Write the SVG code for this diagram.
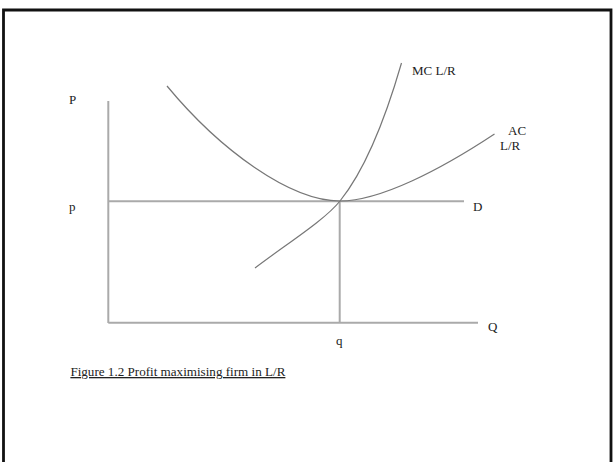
<svg xmlns="http://www.w3.org/2000/svg" width="613" height="462" viewBox="0 0 613 462">
<style>
.t{font-family:"Liberation Serif","Times New Roman",serif;font-size:13px;fill:#222}
.ax{stroke:#aaa;stroke-width:2;fill:none}
.cv{stroke:#777;stroke-width:1.2;fill:none}
</style>
<rect width="613" height="462" fill="#fff"/>
<path d="M3.5,462 V10 H611 V462" fill="none" stroke="#111" stroke-width="2.8"/>
<g id="axes">
<line class="ax" x1="108.3" y1="101" x2="108.3" y2="323"/>
<line class="ax" x1="108.3" y1="322.7" x2="478" y2="322.7"/>
</g>
<g id="connectors">
<line id="D-line" class="ax" x1="108.3" y1="201.3" x2="464" y2="201.3"/>
<line id="q-line" class="ax" stroke-width="1.5" x1="339.7" y1="201.3" x2="339.7" y2="323"/>
<path id="AC" class="cv" d="M167,86 C220,150 290,201 340,201 C380,201 440,170 494.5,134"/>
<path id="MC" class="cv" d="M255,268 C285,245 325,220 340,201 C365,170 385,120 401.5,63"/>
</g>
<g id="labels">
<text class="t" x="412" y="75">MC L/R</text>
<text class="t" x="508" y="135">AC</text>
<text class="t" x="500" y="150">L/R</text>
<text class="t" x="69" y="104">P</text>
<text class="t" x="69" y="211">p</text>
<text class="t" x="473" y="211">D</text>
<text class="t" x="488" y="331">Q</text>
<text class="t" x="336" y="345">q</text>
<text class="t" x="70.4" y="376" font-size="12" textLength="215" lengthAdjust="spacingAndGlyphs" text-decoration="underline">Figure 1.2 Profit maximising firm in L/R</text>
</g>
</svg>
